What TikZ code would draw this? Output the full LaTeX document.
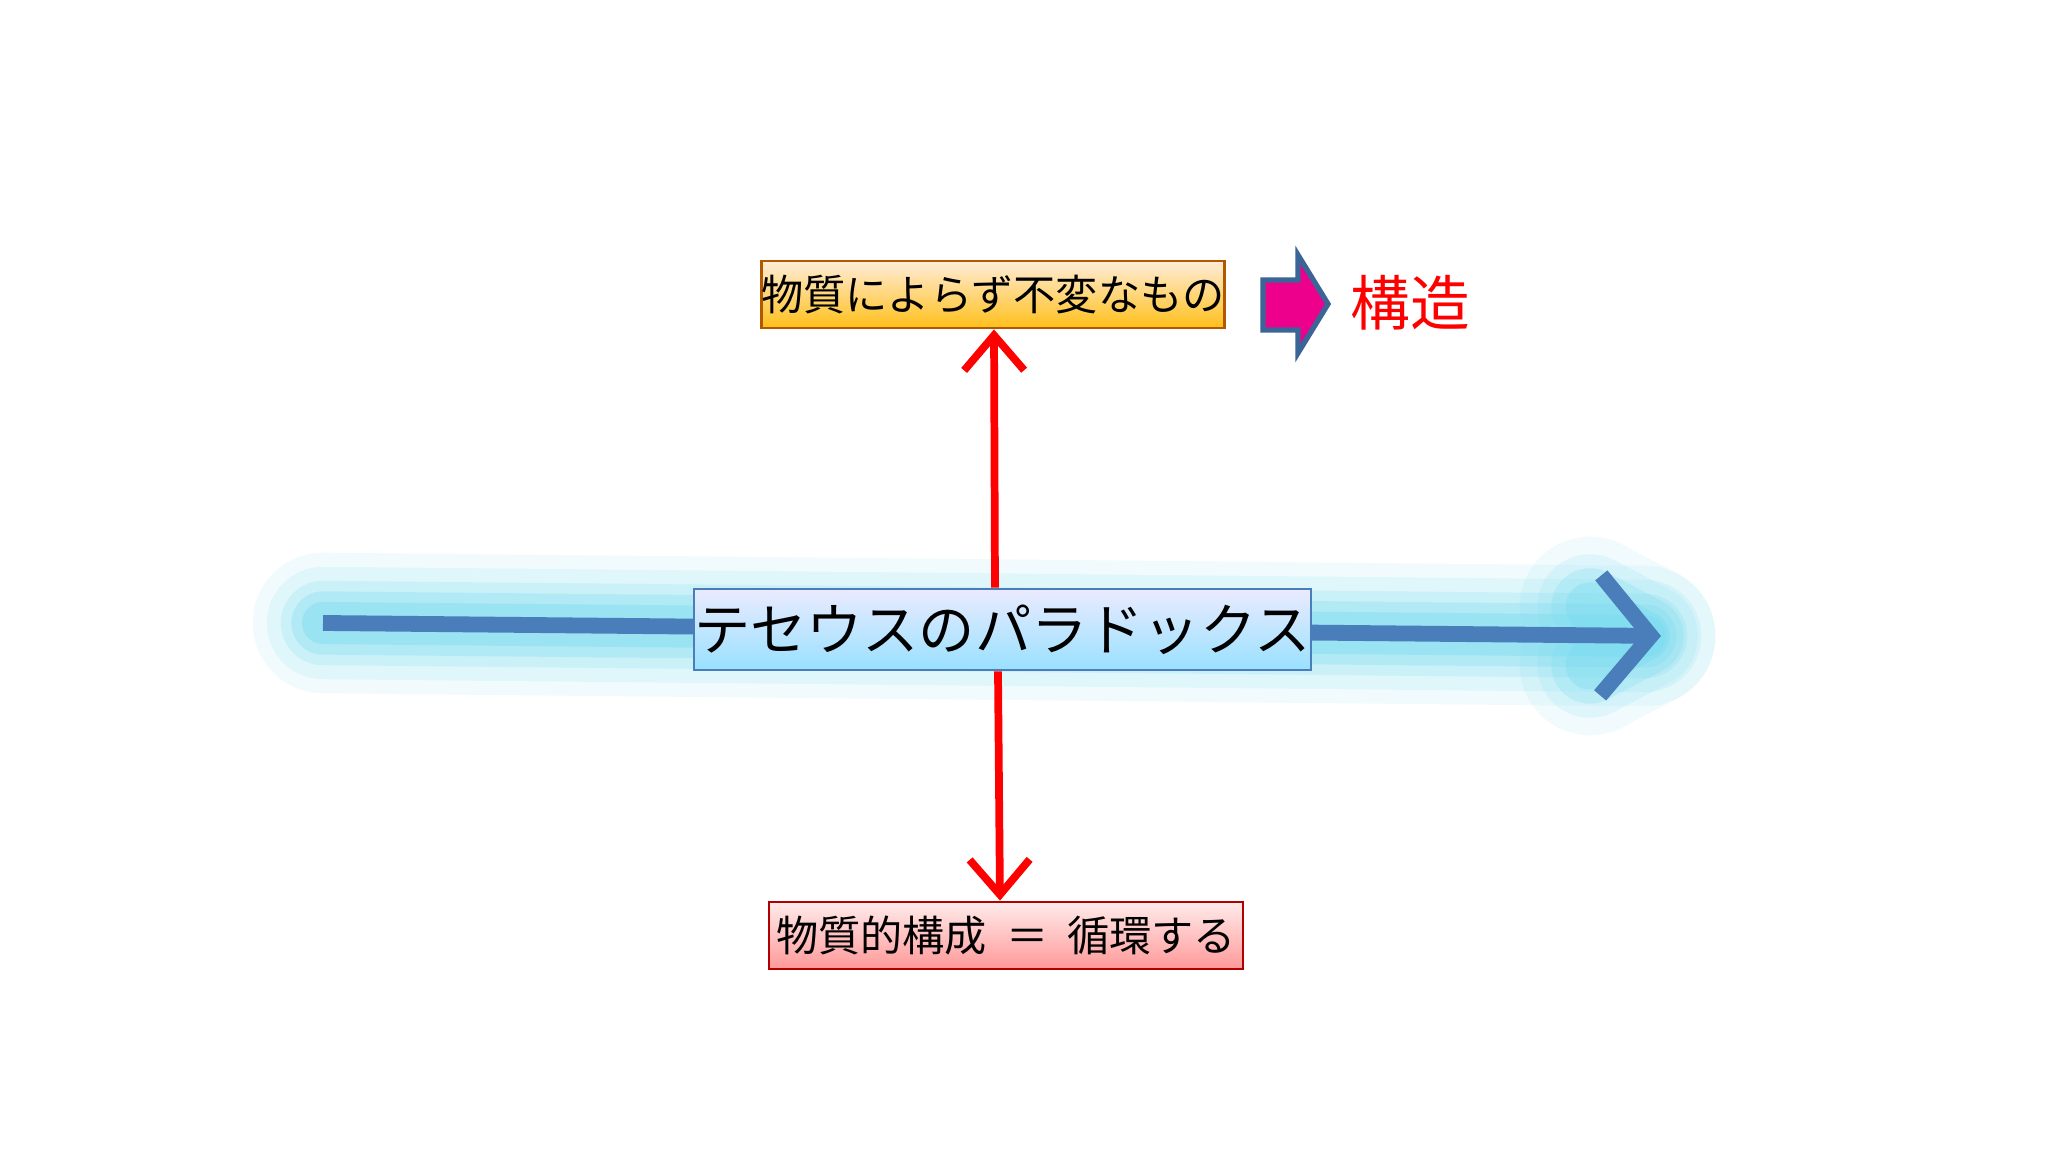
\documentclass[tikz,border=0pt]{standalone}
\usepackage{fontspec}
\setmainfont{Noto Sans CJK JP}
\usetikzlibrary{arrows.meta}
\definecolor{arrowblue}{RGB}{74,126,187}
\definecolor{glow}{RGB}{120,220,240}
\tikzset{
  box/.style={draw=#1!70!black, line width=0.8pt, inner sep=0pt, anchor=center},
  redarrow/.style={draw=red, line width=2.2pt, -{Straight Barb[length=3.5mm,width=6mm]}},
}
\begin{document}
\begin{tikzpicture}
\useasboundingbox (0,0) rectangle (20.48,11.52);
\fill[white] (0,0) rectangle (20.48,11.52);
% glow
\foreach \w/\o in {40/0.10,32/0.14,24/0.2,18/0.3,12/0.4}
  \draw[glow, line width=\w pt, opacity=\o, line cap=round] (3.23,5.29) -- (16.45,5.16);
\foreach \w/\o in {40/0.10,30/0.15,22/0.25,14/0.35}
  \draw[glow, line width=\w pt, opacity=\o, line cap=round, line join=round] (15.9,5.45) -- (16.45,5.16) -- (15.9,4.87);
\coordinate (bs) at (3.23,5.29);
\coordinate (be) at (16.61,5.16);
\draw[arrowblue, line width=4.5pt, -{Straight Barb[length=5mm,width=12mm,line width=4.5pt]}] (bs) -- (be);
% boxes
\node[box=orange, minimum width=4.48cm, minimum height=0.67cm, top color=orange!15, bottom color=orange!55!yellow!90] (top) at (9.93,8.575) {\fontsize{12}{14}\selectfont 物質によらず不変なもの};
\node[box=blue, minimum width=5.37cm, minimum height=0.81cm, top color=blue!8, bottom color=blue!30!cyan!40, draw=arrowblue] (mid) at (10.025,5.225) {\fontsize{16}{18}\selectfont テセウスのパラドックス};
\node[box=red, minimum width=4.74cm, minimum height=0.67cm, top color=red!8, bottom color=red!40] (bot) at (10.06,2.165) {\fontsize{12}{14}\selectfont 物質的構成\ \ ＝\ \ 循環する};
\draw[redarrow] (mid.north -| 9.95,0) -- (top.south -| 9.94,0);
\draw[redarrow] (mid.south -| 9.98,0) -- (bot.north -| 10.0,0);
% block arrow
\filldraw[fill=magenta, draw=arrowblue!80!black, line width=1.5pt, line join=miter]
 (12.63,8.72) -- (12.98,8.72) -- (12.98,8.97) -- (13.28,8.48) -- (12.98,7.99) -- (12.98,8.22) -- (12.63,8.22) -- cycle;
\node[text=red, anchor=center] (kz) at (14.1,8.49) {\fontsize{17}{20}\selectfont 構造};
\end{tikzpicture}
\end{document}
